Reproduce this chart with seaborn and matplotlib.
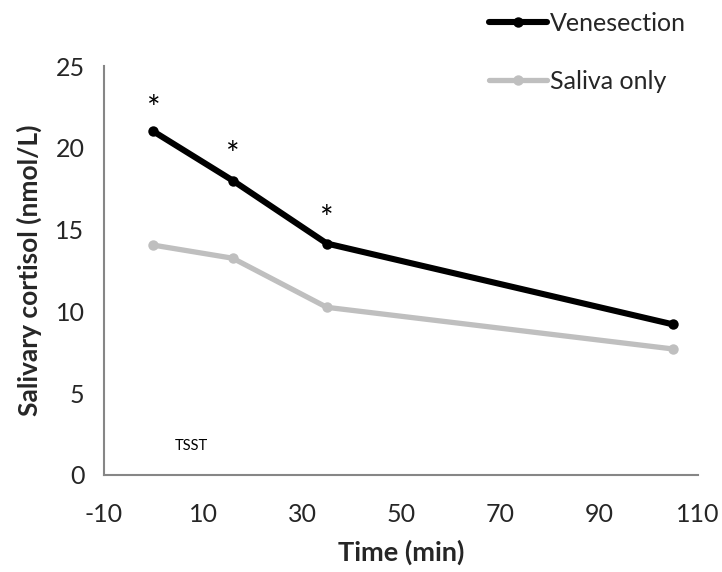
import matplotlib
matplotlib.use("Agg")
import matplotlib.pyplot as plt
import seaborn as sns
import pandas as pd

time_min = [0, 16, 35, 105]
venesection = [21.0, 18.0, 14.15, 9.2]
saliva_only = [14.05, 13.25, 10.25, 7.7]
series_names = ["Venesection", "Saliva only"]
star_times = [0, 16, 35]
star_heights = [22.3, 19.5, 15.6]
x_ticks = [-10, 10, 30, 50, 70, 90, 110]
y_ticks = [0, 5, 10, 15, 20, 25]

sns.set_style("white")
plt.rcParams['font.family'] = ['Lato', 'DejaVu Sans']
plt.rcParams['axes.unicode_minus'] = False

df = pd.DataFrame({
    "Time (min)": time_min * 2,
    "cortisol": venesection + saliva_only,
    "group": [series_names[0]] * 4 + [series_names[1]] * 4,
})

fig = plt.figure(figsize=(7.22, 5.72), dpi=100)
ax = fig.add_axes([0.144, 0.1696, 0.823, 0.715])

palette = {series_names[0]: "#000000", series_names[1]: "#bfbfbf"}
for name, lw in [(series_names[1], 3.8), (series_names[0], 4.4)]:
    sub = df[df["group"] == name]
    sns.lineplot(data=sub, x="Time (min)", y="cortisol", ax=ax, color=palette[name],
                 linewidth=lw, marker="o", markersize=7.5, markeredgewidth=0,
                 label=name, legend=False)

for t, h in zip(star_times, star_heights):
    ax.text(t, h, "*", ha="center", va="center", fontsize=23, color="#000000")

ax.text(4.3, 1.8, "TSST", ha="left", va="center", fontsize=10.5, color="#000000")

ax.set_xlim(-10, 110)
ax.set_ylim(0, 25)
ax.set_xticks(x_ticks)
ax.set_yticks(y_ticks)
ax.tick_params(axis="both", labelsize=18, length=6, width=1.2, color="#868686",
               direction="out", pad=8)
ax.tick_params(axis="x", pad=14)
for s in ["top", "right"]:
    ax.spines[s].set_visible(False)
for s in ["left", "bottom"]:
    ax.spines[s].set_color("#868686")
    ax.spines[s].set_linewidth(1.5)

ax.set_xlabel("Time (min)", fontsize=19.5, fontweight="bold", labelpad=10)
ax.set_ylabel("Salivary cortisol (nmol/L)", fontsize=19, fontweight="bold", labelpad=10)

handles = [plt.Line2D([], [], color="#000000", lw=4.4, marker="o", markersize=7.5, markeredgewidth=0),
           plt.Line2D([], [], color="#bfbfbf", lw=3.8, marker="o", markersize=7.5, markeredgewidth=0)]
fig.legend(handles, series_names, loc="upper left", bbox_to_anchor=(0.664, 0.997),
           frameon=False, fontsize=18, handlelength=2.3, handletextpad=0.12,
           labelspacing=1.4, borderaxespad=0)

fig.savefig("out.png", dpi=100)
